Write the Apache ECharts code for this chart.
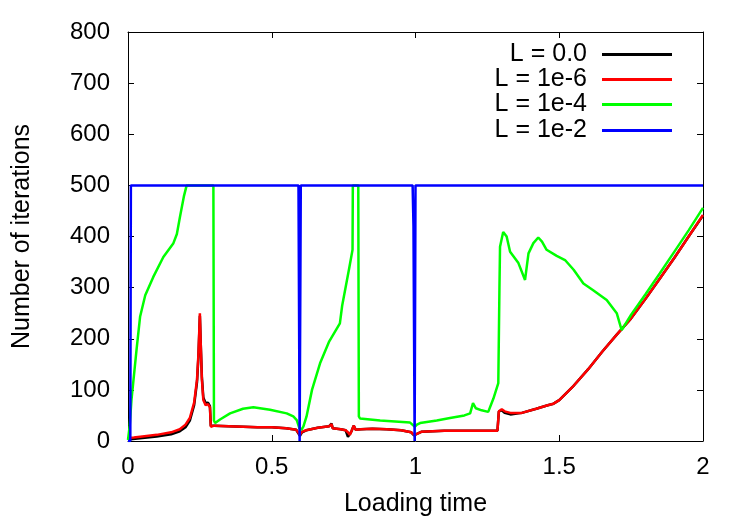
<!DOCTYPE html>
<html>
<head>
<meta charset="utf-8">
<style>
  html, body { margin: 0; padding: 0; background: #fff; }
  #chart { width: 750px; height: 525px; }
</style>
<script src="https://cdn.jsdelivr.net/npm/echarts@6/dist/echarts.min.js"></script>
</head>
<body>
<div id="chart"></div>
<script>
var seriesNames = ['L = 0.0', 'L = 1e-6', 'L = 1e-4', 'L = 1e-2'];
var seriesColors = ['#000000', '#ff0000', '#00ff00', '#0000ff'];

var xTicks = [0, 0.5, 1, 1.5, 2];
var yTicks = [0, 100, 200, 300, 400, 500, 600, 700, 800];

// [loading time, iterations]
var dataL0 = [
    [0, 3], [0.05, 6], [0.1, 9], [0.15, 13], [0.18, 19], [0.2, 27], [0.215, 40],
    [0.23, 70], [0.24, 115], [0.245, 165], [0.25, 245], [0.253, 190], [0.257, 125],
    [0.262, 85], [0.27, 74], [0.278, 75], [0.285, 68], [0.288, 30], [0.3, 30],
    [0.35, 29], [0.4, 28], [0.45, 27], [0.5, 27], [0.55, 25], [0.585, 22],
    [0.598, 10], [0.605, 17], [0.62, 21], [0.66, 26], [0.7, 29], [0.708, 34],
    [0.712, 25], [0.74, 23], [0.757, 21], [0.765, 8], [0.772, 14], [0.778, 20],
    [0.785, 30], [0.792, 22], [0.81, 23], [0.85, 24], [0.9, 23], [0.95, 21],
    [0.985, 17], [0.995, 11], [1.005, 14], [1.02, 18], [1.1, 20], [1.2, 20],
    [1.27, 20], [1.285, 20], [1.29, 58], [1.3, 60], [1.31, 55], [1.33, 52],
    [1.37, 55], [1.42, 63], [1.46, 70], [1.48, 73], [1.5, 80], [1.55, 108],
    [1.6, 140], [1.65, 175], [1.7, 208], [1.75, 240], [1.8, 278], [1.85, 318],
    [1.9, 358], [1.95, 400], [2, 441]
];

var dataL6 = [
    [0, 6], [0.02, 7], [0.05, 9], [0.1, 12], [0.15, 17], [0.18, 23], [0.2, 32],
    [0.215, 45], [0.23, 75], [0.24, 120], [0.245, 170], [0.25, 250], [0.253, 190],
    [0.257, 120], [0.262, 80], [0.27, 70], [0.278, 72], [0.285, 66], [0.288, 28],
    [0.3, 30], [0.35, 29], [0.4, 28], [0.45, 27], [0.5, 27], [0.55, 25],
    [0.585, 22], [0.598, 12], [0.605, 18], [0.62, 21], [0.66, 26], [0.7, 29],
    [0.708, 33], [0.712, 25], [0.74, 23], [0.757, 21], [0.765, 17], [0.772, 12],
    [0.778, 20], [0.785, 30], [0.792, 22], [0.81, 23], [0.85, 24], [0.9, 23],
    [0.95, 21], [0.985, 17], [0.995, 12], [1.005, 14], [1.02, 18], [1.1, 20],
    [1.2, 20], [1.27, 20], [1.285, 20], [1.29, 58], [1.3, 62], [1.31, 58],
    [1.33, 55], [1.37, 55], [1.42, 63], [1.46, 70], [1.48, 73], [1.5, 80],
    [1.55, 108], [1.6, 140], [1.65, 175], [1.7, 208], [1.75, 240], [1.8, 278],
    [1.85, 318], [1.9, 358], [1.95, 400], [2, 442]
];

var dataL4 = [
    [0, 2], [0.006, 30], [0.012, 80], [0.018, 113], [0.03, 180], [0.042, 243],
    [0.06, 285], [0.088, 321], [0.123, 360], [0.158, 387], [0.17, 405],
    [0.181, 439], [0.195, 480], [0.204, 500], [0.297, 500], [0.299, 40],
    [0.303, 35], [0.32, 42], [0.355, 54], [0.4, 63], [0.436, 66], [0.494, 61],
    [0.552, 54], [0.575, 48], [0.587, 41], [0.596, 25], [0.603, 22], [0.61, 28],
    [0.621, 48], [0.64, 100], [0.668, 152], [0.7, 195], [0.737, 230],
    [0.745, 265], [0.755, 295], [0.77, 340], [0.781, 374], [0.782, 500],
    [0.801, 500], [0.803, 48], [0.807, 44], [0.877, 40], [0.981, 36],
    [0.998, 28], [1.005, 32], [1.016, 35], [1.074, 40], [1.12, 45], [1.17, 50],
    [1.19, 54], [1.2, 74], [1.21, 64], [1.23, 60], [1.253, 57], [1.271, 83],
    [1.288, 113], [1.292, 300], [1.294, 380], [1.305, 409], [1.317, 400],
    [1.329, 370], [1.358, 348], [1.381, 315], [1.393, 367], [1.41, 387],
    [1.427, 398], [1.44, 390], [1.456, 374], [1.491, 362], [1.52, 354],
    [1.55, 335], [1.584, 308], [1.618, 295], [1.665, 276], [1.7, 250],
    [1.717, 217], [1.75, 247], [1.8, 287], [1.85, 328], [1.9, 370],
    [1.95, 412], [2, 456]
];

var dataL2 = [
    [0, 0], [0.008, 0], [0.01, 500], [0.593, 500], [0.597, 0], [0.601, 500],
    [0.99, 500], [0.993, 420], [0.997, 0], [1.0, 500], [2, 500]
];

var allData = [dataL0, dataL6, dataL4, dataL2];
var legendTops = [42, 67, 92, 118];

var FONT = 'Liberation Sans';

var chart = echarts.init(document.getElementById('chart'));

function frameAxis(pos, ticks, extra) {
    var ax = {
        type: 'value',
        position: pos,
        min: ticks[0],
        max: ticks[ticks.length - 1],
        interval: ticks[1] - ticks[0],
        axisLine: { show: true, onZero: false, lineStyle: { color: '#000', width: 1 } },
        axisTick: { show: true, inside: true, length: 6, lineStyle: { color: '#000' } },
        splitLine: { show: false },
        axisLabel: { show: false }
    };
    return Object.assign(ax, extra || {});
}

var labelStyle = { show: true, color: '#000', fontSize: 24, fontFamily: FONT };
var nameStyle = { color: '#000', fontSize: 25, fontFamily: FONT };

var option = {
    animation: false,
    backgroundColor: '#fff',
    grid: { left: 128, right: 47, top: 32, bottom: 84 },
    xAxis: [
        frameAxis('bottom', xTicks, {
            name: 'Loading time',
            nameLocation: 'middle',
            nameGap: 51,
            nameTextStyle: nameStyle,
            axisLabel: Object.assign({ margin: 14 }, labelStyle)
        }),
        frameAxis('top', xTicks)
    ],
    yAxis: [
        frameAxis('left', yTicks, {
            name: 'Number of iterations',
            nameLocation: 'middle',
            nameGap: 93,
            nameTextStyle: nameStyle,
            axisLabel: Object.assign({ margin: 18 }, labelStyle)
        }),
        frameAxis('right', yTicks)
    ],
    legend: seriesNames.map(function (name, i) {
        return {
            data: [name],
            right: 78,
            top: legendTops[i],
            padding: 0,
            align: 'right',
            icon: 'rect',
            itemWidth: 70,
            itemHeight: 3,
            selectedMode: false,
            textStyle: { color: '#000', fontSize: 25, fontFamily: FONT, padding: [0, 10, 0, 0] }
        };
    }),
    series: seriesNames.map(function (name, i) {
        return {
            name: name,
            type: 'line',
            data: allData[i],
            showSymbol: false,
            symbol: 'none',
            color: seriesColors[i],
            lineStyle: { color: seriesColors[i], width: 2.5 },
            z: 2 + i
        };
    })
};

chart.setOption(option);
</script>
</body>
</html>
